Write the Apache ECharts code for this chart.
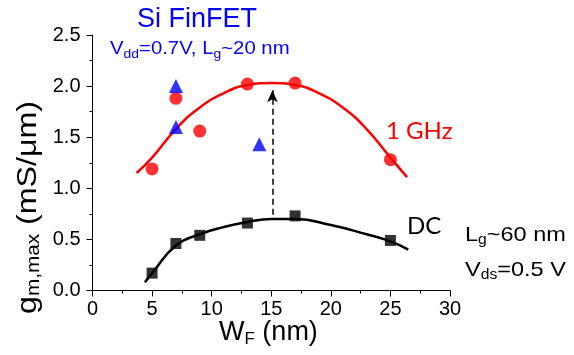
<!DOCTYPE html>
<html>
<head>
<meta charset="utf-8">
<script src="https://cdn.jsdelivr.net/npm/echarts@6/dist/echarts.min.js"></script>
<style>html,body{margin:0;padding:0;background:#fff}#c{width:574px;height:355px}</style>
</head>
<body>
<div id="c"></div>
<script>
// Measured points
const ghzW = [5, 7, 9, 13, 17, 25];
const ghzG = [1.19, 1.88, 1.56, 2.02, 2.03, 1.28];
const triW = [7, 7, 14];
const triG = [2.00, 1.60, 1.43];
const dcW = [5, 7, 9, 13, 17, 25];
const dcG = [0.17, 0.46, 0.54, 0.66, 0.73, 0.49];
// Fit curves
const ghzFitW = [3.7, 5, 7, 9, 11, 13, 15, 17, 19, 21, 23, 25, 26.4];
const ghzFitG = [1.15, 1.30, 1.58, 1.79, 1.93, 2.01, 2.03, 2.01, 1.93, 1.79, 1.58, 1.30, 1.11];
const dcFitW = [4.4, 5, 7, 9, 11, 13, 15, 17, 20, 23, 25, 26.5];
const dcFitG = [0.08, 0.17, 0.44, 0.55, 0.62, 0.67, 0.70, 0.70, 0.64, 0.55, 0.48, 0.40];
// Arrow
const arrowW = 15.1;
const arrowFrom = 0.74;
const arrowTo = 1.96;
// Axis ticks
const xTicks = [0, 5, 10, 15, 20, 25, 30];
const yTicks = [0.0, 0.5, 1.0, 1.5, 2.0, 2.5];

const zip = (a, b) => a.map((v, i) => [v, b[i]]);
const F = 'Liberation Sans, Arial, sans-serif';
const C = 'Lato, Carlito, sans-serif';
const chart = echarts.init(document.getElementById('c'), null, {renderer: 'canvas'});
chart.setOption({
  animation: false,
  backgroundColor: '#fff',
  grid: {left: 92.5, right: 124, top: 35, bottom: 64.5, containLabel: false},
  xAxis: {
    type: 'value', min: xTicks[0], max: xTicks[xTicks.length - 1], interval: 5,
    axisLine: {show: true, onZero: false, lineStyle: {color: '#000', width: 1}},
    axisTick: {show: true, inside: false, length: 6, lineStyle: {color: '#000'}},
    minorTick: {show: true, splitNumber: 2, length: 3, lineStyle: {color: '#000'}},
    splitLine: {show: false},
    axisLabel: {color: '#000', fontFamily: F, fontSize: 20, margin: 9,
      formatter: v => xTicks.includes(v) ? String(v) : ''}
  },
  yAxis: {
    type: 'value', min: yTicks[0], max: yTicks[yTicks.length - 1], interval: 0.5,
    axisLine: {show: true, onZero: false, lineStyle: {color: '#000', width: 1}},
    axisTick: {show: true, inside: false, length: 6, lineStyle: {color: '#000'}},
    minorTick: {show: true, splitNumber: 2, length: 3, lineStyle: {color: '#000'}},
    splitLine: {show: false},
    axisLabel: {color: '#000', fontFamily: F, fontSize: 20, margin: 12,
      formatter: v => v.toFixed(1)}
  },
  series: [
    {type: 'line', data: zip(ghzFitW, ghzFitG), smooth: 0.5, symbol: 'none',
      lineStyle: {color: '#ff0000', width: 2.5}, z: 2},
    {type: 'line', data: zip(dcFitW, dcFitG), smooth: 0.5, symbol: 'none',
      lineStyle: {color: '#000', width: 2.5}, z: 2},
    {type: 'scatter', data: zip(ghzW, ghzG), symbol: 'circle', symbolSize: 13,
      itemStyle: {color: '#ff0000'}, z: 3},
    {type: 'scatter', data: zip(triW, triG), symbol: 'triangle', symbolSize: 14,
      itemStyle: {color: '#0000ff'}, z: 4},
    {type: 'scatter', data: zip(dcW, dcG), symbol: 'rect', symbolSize: 11,
      itemStyle: {color: '#000'}, z: 3},
    {type: 'line', data: [], markLine: {
      silent: true, symbol: ['none', 'arrow'], symbolSize: [8, 12],
      label: {show: false},
      lineStyle: {color: '#000', type: [6, 4], width: 1.5},
      data: [[{coord: [arrowW, arrowFrom]}, {coord: [arrowW, arrowTo]}]]
    }}
  ],
  graphic: [
    {type: 'text', x: 137, y: 6, style: {text: 'Si FinFET', fill: '#0000ff', font: '27px ' + F}},
    {type: 'text', x: 110, y: 38, scaleX: 1.07, style: {
      text: '{m|V}{s|dd}{m|=0.7V, L}{s|g}{m|~20 nm}',
      rich: {m: {fill: '#0000ff', fontFamily: F, fontSize: 19, lineHeight: 22},
             s: {fill: '#0000ff', fontFamily: F, fontSize: 13, lineHeight: 22, padding: [10, 0, 0, 0]}}
    }},
    {type: 'text', x: 386, y: 119, style: {text: '1 GHz', fill: '#ff0000', font: '24px ' + C}},
    {type: 'text', x: 407, y: 214, style: {text: 'DC', fill: '#000', font: '24px ' + C}},
    {type: 'text', x: 465, y: 223, scaleX: 1.12, style: {
      text: '{m|L}{s|g}{m|~60 nm}',
      rich: {m: {fill: '#000', fontFamily: F, fontSize: 21, lineHeight: 24},
             s: {fill: '#000', fontFamily: F, fontSize: 14, lineHeight: 24, padding: [11, 0, 0, 0]}}
    }},
    {type: 'text', x: 465, y: 258, scaleX: 1.12, style: {
      text: '{m|V}{s|ds}{m|=0.5 V}',
      rich: {m: {fill: '#000', fontFamily: F, fontSize: 21, lineHeight: 24},
             s: {fill: '#000', fontFamily: F, fontSize: 14, lineHeight: 24, padding: [11, 0, 0, 0]}}
    }},
    {type: 'text', x: 219, y: 317, style: {
      text: '{m|W}{s|F}{m| (nm)}',
      rich: {m: {fill: '#000', fontFamily: F, fontSize: 27, lineHeight: 31},
             s: {fill: '#000', fontFamily: F, fontSize: 17, lineHeight: 31, padding: [13, 0, 0, 0]}}
    }},
    {type: 'text', x: 12, y: 314, rotation: Math.PI / 2, scaleX: 1.15, style: {
      text: '{m|g}{s|m,max}{m| (mS/μm)}',
      rich: {m: {fill: '#000', fontFamily: F, fontSize: 28, lineHeight: 32},
             s: {fill: '#000', fontFamily: F, fontSize: 18, lineHeight: 32, padding: [13, 0, 0, 0]}}
    }}
  ]
});
</script>
</body>
</html>
